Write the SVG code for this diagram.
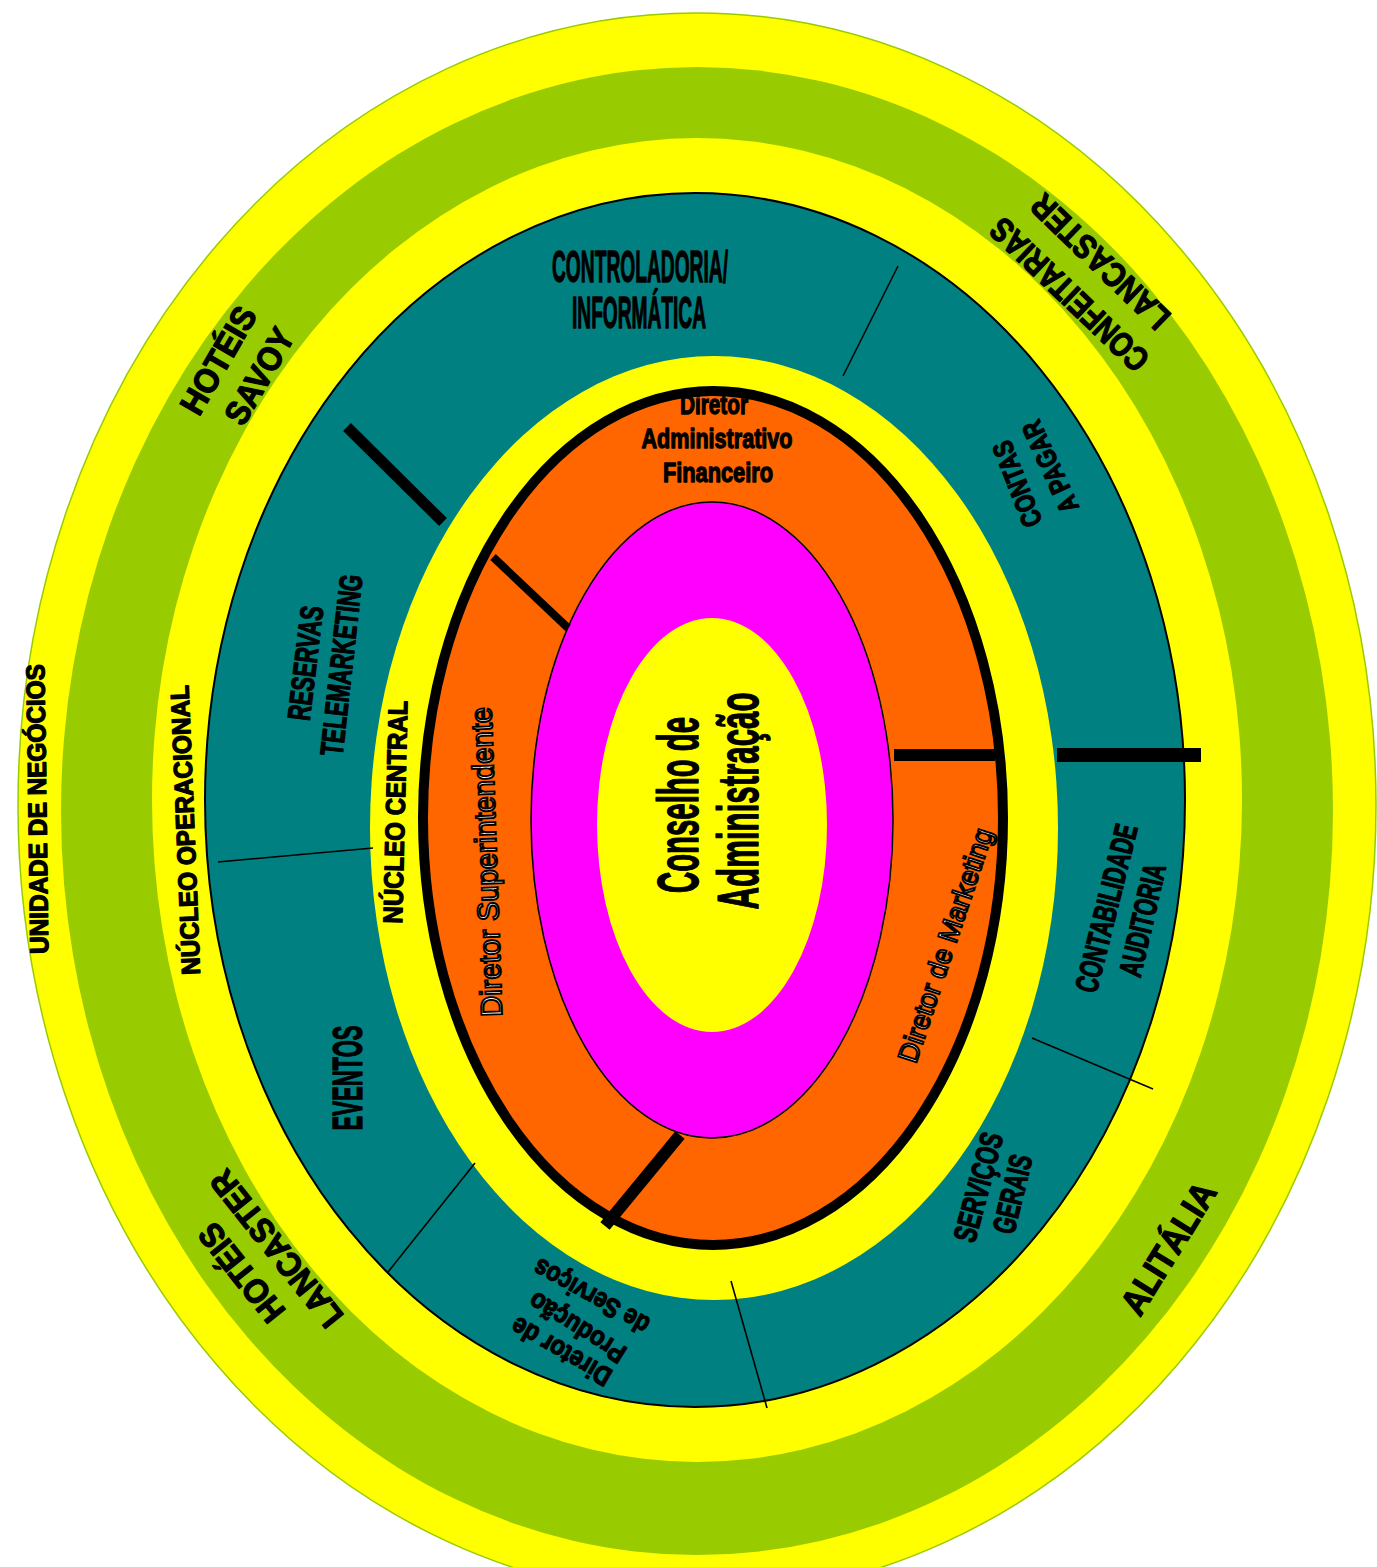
<svg xmlns="http://www.w3.org/2000/svg" width="1377" height="1567" viewBox="0 0 1377 1567">
<style>
.b{font-family:"Liberation Sans",Arial,sans-serif;font-weight:bold;fill:#000;stroke:#000;stroke-width:1.3;stroke-linejoin:round;text-anchor:middle}
.o{font-family:"Liberation Sans",Arial,sans-serif;font-weight:normal;fill:#fff;stroke:#000;stroke-width:1.9;text-anchor:middle}
.thin{stroke:#000;stroke-width:1.6;fill:none}
.thick{stroke:#000;fill:none}
</style>
<defs>
<clipPath id="orangeClip"><ellipse cx="713" cy="818" rx="290" ry="427"/></clipPath>
</defs>
<rect width="1377" height="1567" fill="#fff"/>
<g id="unidade-negocios">
<ellipse cx="697" cy="805" rx="679" ry="792" fill="#FFFF00" stroke="#99CC00" stroke-width="1.5"/>
<text class="b" font-size="26" transform="translate(37,809) rotate(-90.8)" y="9.3" textLength="290" lengthAdjust="spacingAndGlyphs">UNIDADE DE NEGÓCIOS</text>
</g>
<g id="empresas">
<ellipse cx="697" cy="811" rx="636" ry="744" fill="#99CC00"/>
<text class="b" font-size="34" transform="translate(218,360) rotate(-60)" y="12.2" textLength="118" lengthAdjust="spacingAndGlyphs">HOTÉIS</text>
<text class="b" font-size="34" transform="translate(259,376) rotate(-60)" y="12.2" textLength="105" lengthAdjust="spacingAndGlyphs">SAVOY</text>
<text class="b" font-size="34" transform="translate(1069,295) rotate(-136.3)" y="12.2" textLength="205" lengthAdjust="spacingAndGlyphs">CONFEITARIAS</text>
<text class="b" font-size="34" transform="translate(1100,262) rotate(-136)" y="12.2" textLength="178" lengthAdjust="spacingAndGlyphs">LANCASTER</text>
<text class="b" font-size="34" transform="translate(241,1273) rotate(-128.5)" y="12.2" textLength="116" lengthAdjust="spacingAndGlyphs">HOTÉIS</text>
<text class="b" font-size="34" transform="translate(276,1249) rotate(-128.5)" y="12.2" textLength="190" lengthAdjust="spacingAndGlyphs">LANCASTER</text>
<text class="b" font-size="36" transform="translate(1168,1248) rotate(-58.2)" y="12.9" textLength="148" lengthAdjust="spacingAndGlyphs">ALITÁLIA</text>
</g>
<g id="nucleo-operacional">
<ellipse cx="697" cy="800" rx="545" ry="662" fill="#FFFF00"/>
<text class="b" font-size="26" transform="translate(185,830) rotate(-92.3)" y="9.3" textLength="290" lengthAdjust="spacingAndGlyphs">NÚCLEO OPERACIONAL</text>
</g>
<g id="departamentos">
<ellipse cx="695" cy="800" rx="490" ry="607" fill="#008080" stroke="#000" stroke-width="2"/>
<text class="b" font-size="44" x="640" y="282" textLength="176" lengthAdjust="spacingAndGlyphs">CONTROLADORIA/</text>
<text class="b" font-size="44" x="639" y="328" textLength="134" lengthAdjust="spacingAndGlyphs">INFORMÁTICA</text>
<text class="b" font-size="28" transform="translate(1017,484) rotate(-111.5)" y="10" textLength="90" lengthAdjust="spacingAndGlyphs">CONTAS</text>
<text class="b" font-size="28" transform="translate(1050,467) rotate(-114.6)" y="10" textLength="98" lengthAdjust="spacingAndGlyphs">A PAGAR</text>
<text class="b" font-size="32" transform="translate(305,663) rotate(-83)" y="11.5" textLength="115" lengthAdjust="spacingAndGlyphs">RESERVAS</text>
<text class="b" font-size="32" transform="translate(341,665) rotate(-83.6)" y="11.5" textLength="182" lengthAdjust="spacingAndGlyphs">TELEMARKETING</text>
<text class="b" font-size="42" transform="translate(347,1078) rotate(-90)" y="15" textLength="105" lengthAdjust="spacingAndGlyphs">EVENTOS</text>
<text class="b" font-size="32" transform="translate(1106,908) rotate(-76)" y="11.5" textLength="172" lengthAdjust="spacingAndGlyphs">CONTABILIDADE</text>
<text class="b" font-size="32" transform="translate(1142,920) rotate(-77)" y="11.5" textLength="115" lengthAdjust="spacingAndGlyphs">AUDITORIA</text>
<text class="b" font-size="32" transform="translate(978,1187) rotate(-75)" y="11.5" textLength="112" lengthAdjust="spacingAndGlyphs">SERVIÇOS</text>
<text class="b" font-size="32" transform="translate(1012,1194) rotate(-76.4)" y="11.5" textLength="80" lengthAdjust="spacingAndGlyphs">GERAIS</text>
<text class="b" font-size="27" transform="translate(561,1352) rotate(-150)" y="9.7" textLength="111" lengthAdjust="spacingAndGlyphs">Diretor de</text>
<text class="b" font-size="27" transform="translate(577,1328) rotate(-148)" y="9.7" textLength="109" lengthAdjust="spacingAndGlyphs">Produção</text>
<text class="b" font-size="27" transform="translate(591,1297) rotate(-151)" y="9.7" textLength="128" lengthAdjust="spacingAndGlyphs">de Serviços</text>
</g>
<g id="nucleo-central">
<ellipse cx="714" cy="828" rx="344" ry="472" fill="#FFFF00"/>
<text class="b" font-size="27" transform="translate(395,812) rotate(-88.6)" y="9.7" textLength="223" lengthAdjust="spacingAndGlyphs">NÚCLEO CENTRAL</text>
</g>
<g id="diretoria">
<ellipse cx="713" cy="818" rx="290" ry="427" fill="#FF6600"/>
<g clip-path="url(#orangeClip)">
<text class="b" font-size="28" x="714" y="414" textLength="68" lengthAdjust="spacingAndGlyphs">Diretor</text>
<text class="b" font-size="28" x="717" y="448" textLength="151" lengthAdjust="spacingAndGlyphs">Administrativo</text>
<text class="b" font-size="28" x="718" y="482" textLength="110" lengthAdjust="spacingAndGlyphs">Financeiro</text>
</g>
<ellipse cx="713" cy="818" rx="290" ry="427" fill="none" stroke="#000" stroke-width="10"/>
<text class="o" font-size="30" transform="translate(486,862) rotate(-92)" y="10.7" textLength="310" lengthAdjust="spacingAndGlyphs">Diretor Superintendente</text>
<text class="o" font-size="28" transform="translate(945,945) rotate(-71.6)" y="10" textLength="245" lengthAdjust="spacingAndGlyphs">Diretor de Marketing</text>
</g>
<g id="presidencia">
<ellipse cx="712" cy="820" rx="181" ry="318" fill="#FF00FF" stroke="#000" stroke-width="1.5"/>
</g>
<g id="conselho">
<ellipse cx="712" cy="825" rx="115" ry="207" fill="#FFFF00"/>
<text class="b" font-size="58" transform="translate(677,805) rotate(-90)" y="20.8" textLength="176" lengthAdjust="spacingAndGlyphs">Conselho de</text>
<text class="b" font-size="58" transform="translate(737,801) rotate(-90)" y="20.8" textLength="217" lengthAdjust="spacingAndGlyphs">Administração</text>
</g>
<g id="connectors">
<line class="thin" x1="898" y1="266" x2="843" y2="376"/>
<line class="thin" x1="218" y1="862" x2="373" y2="848"/>
<line class="thin" x1="1032" y1="1038" x2="1153" y2="1089"/>
<line class="thin" x1="475" y1="1163" x2="388" y2="1272"/>
<line class="thin" x1="731" y1="1281" x2="767" y2="1408"/>
<line class="thick" stroke-width="11" x1="347" y1="427" x2="443" y2="522"/>
<line class="thick" stroke-width="8" x1="493" y1="557" x2="568" y2="628"/>
<line class="thick" stroke-width="12" x1="894" y1="755" x2="995" y2="755"/>
<line class="thick" stroke-width="14" x1="1057" y1="755" x2="1201" y2="755"/>
<line class="thick" stroke-width="12" x1="680" y1="1135" x2="605" y2="1226"/>
</g>
</svg>
